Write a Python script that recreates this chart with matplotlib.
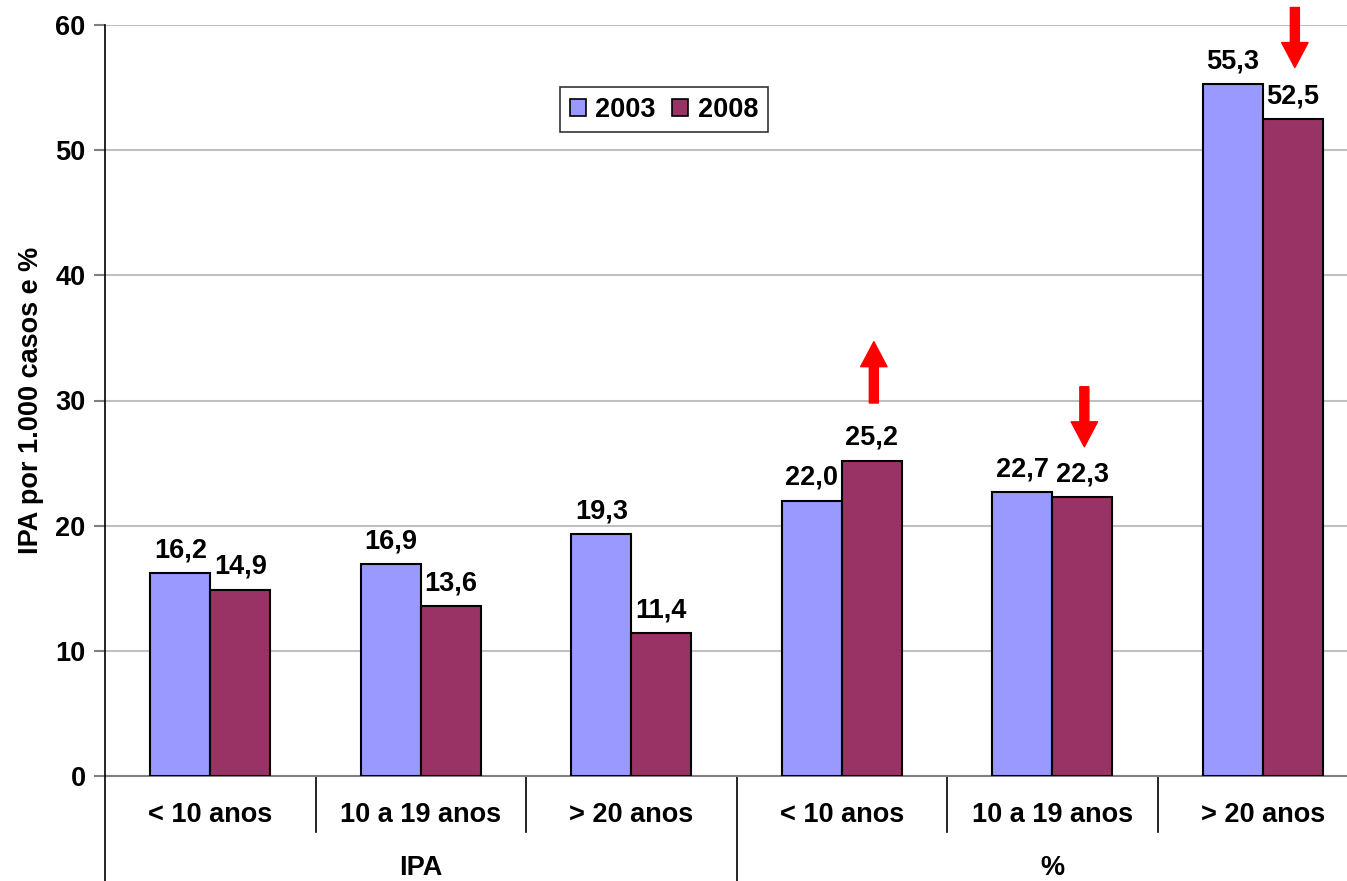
import matplotlib
matplotlib.use("Agg")
import matplotlib.pyplot as plt
import numpy as np

plt.rcParams['font.family'] = ['Liberation Sans', 'DejaVu Sans']

categories = ["< 10 anos", "10 a 19 anos", "> 20 anos", "< 10 anos", "10 a 19 anos", "> 20 anos"]
groups = ["IPA", "%"]
series_names = ["2003", "2008"]
values_2003 = [16.2, 16.9, 19.3, 22.0, 22.7, 55.3]
values_2008 = [14.9, 13.6, 11.4, 25.2, 22.3, 52.5]
# arrows: (category index, start value, end value)
arrows = [(3, 29.8, 34.7), (4, 31.1, 26.3), (5, 61.4, 56.6)]
yticks = [0, 10, 20, 30, 40, 50, 60]

c2003 = "#9999FF"
c2008 = "#993366"
FS = 19.5

fig = plt.figure(figsize=(13.47, 8.81), dpi=100)
W, H = 1347, 881
left_px, right_px, top_px, bot_px = 105, 1368, 25, 776
ax = fig.add_axes([left_px / W, (H - bot_px) / H, (right_px - left_px) / W, (bot_px - top_px) / H])

x = np.arange(len(categories))
bw = 0.285
ax.bar(x - bw / 2, values_2003, bw, color=c2003, edgecolor="black", linewidth=1.5, label=series_names[0], zorder=3)
ax.bar(x + bw / 2, values_2008, bw, color=c2008, edgecolor="black", linewidth=1.5, label=series_names[1], zorder=3)

def fmt(v):
    return f"{v:.1f}".replace(".", ",")

for xi, v in zip(x - bw / 2, values_2003):
    ax.annotate(fmt(v), (xi, v), xytext=(0, 7), textcoords="offset points", ha="center", va="bottom",
                fontsize=FS, fontweight="bold")
for xi, v in zip(x + bw / 2, values_2008):
    ax.annotate(fmt(v), (xi, v), xytext=(0, 7), textcoords="offset points", ha="center", va="bottom",
                fontsize=FS, fontweight="bold")

for ci, y0, y1 in arrows:
    xa = ci + bw / 2 + 0.01
    ax.annotate("", xy=(xa, y1), xytext=(xa, y0),
                arrowprops=dict(width=6.5, headwidth=19, headlength=18, color="red", shrink=0),
                annotation_clip=False, zorder=5)

ax.set_xlim(-0.5, 5.5)
ax.set_ylim(0, 60)
ax.set_yticks(yticks)
ax.set_yticklabels([str(t) for t in yticks], fontsize=FS, fontweight="bold")
ax.yaxis.grid(True, color="#C0C0C0", linewidth=1.5, zorder=0)
ax.set_axisbelow(True)
ax.tick_params(axis="y", direction="out", length=8, width=1.5, color="#808080", pad=6)
ax.set_xticks([])
for s in ["top", "right"]:
    ax.spines[s].set_visible(False)
ax.spines["bottom"].set_color("#808080")
ax.spines["bottom"].set_linewidth(1.5)
ax.spines["left"].set_visible(False)

ax.set_ylabel("IPA por 1.000 casos e %", fontsize=FS, fontweight="bold", labelpad=8)

trans = ax.get_xaxis_transform()
ax_h_px = bot_px - top_px
y_sep_short = -(832 - bot_px) / ax_h_px
y_sep_long = -(H - bot_px) / ax_h_px - 0.01
ax.plot([-0.5, -0.5], [y_sep_long, 1], transform=trans, color="black", linewidth=1.2, clip_on=False, zorder=4)
for b in [0.5, 1.5, 3.5, 4.5]:
    ax.plot([b, b], [0, y_sep_short], transform=trans, color="black", linewidth=1.2, clip_on=False)
ax.plot([2.5, 2.5], [0, y_sep_long], transform=trans, color="black", linewidth=1.2, clip_on=False)

y_cat = -(815 - bot_px) / ax_h_px
y_grp = -(868 - bot_px) / ax_h_px
for xi, c in zip(x, categories):
    ax.text(xi, y_cat, c, transform=trans, ha="center", va="center", fontsize=FS, fontweight="bold")
ax.text(1.0, y_grp, groups[0], transform=trans, ha="center", va="center", fontsize=FS, fontweight="bold")
ax.text(4.0, y_grp, groups[1], transform=trans, ha="center", va="center", fontsize=FS, fontweight="bold")

leg = ax.legend(loc="center", bbox_to_anchor=(0.4426, 0.887), ncol=2, frameon=True,
                fancybox=False, edgecolor="black", handlelength=0.6, handleheight=0.6,
                handletextpad=0.35, columnspacing=0.6, borderpad=0.35,
                prop={"weight": "bold", "size": FS})
leg.get_frame().set_linewidth(1.2)
for h in leg.legend_handles:
    h.set_linewidth(1.2)

fig.savefig("out.png", dpi=100)
